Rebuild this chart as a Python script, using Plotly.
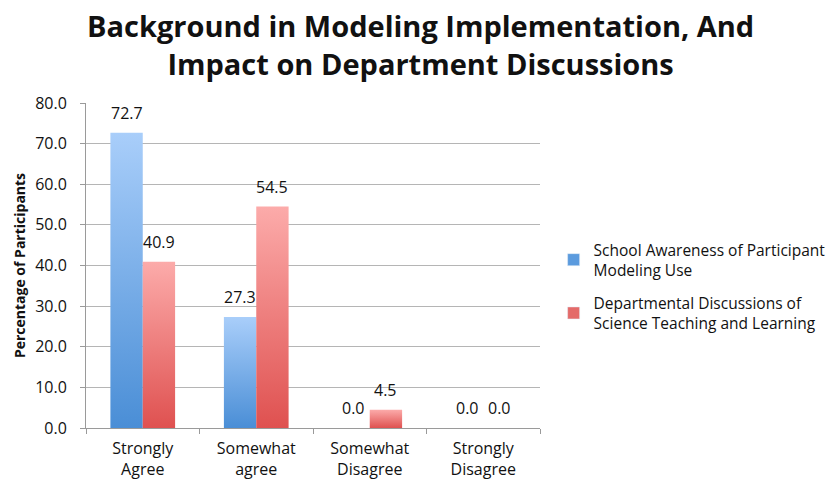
import plotly.graph_objects as go

categories = ["Strongly<br>Agree", "Somewhat<br>agree", "Somewhat<br>Disagree", "Strongly<br>Disagree"]
school_awareness = [72.7, 27.3, 0.0, 0.0]
dept_discussions = [40.9, 54.5, 4.5, 0.0]
series_names = [
    "School Awareness of Participant<br>Modeling Use",
    "Departmental Discussions of<br>Science Teaching and Learning",
]
y_ticks = [0, 10, 20, 30, 40, 50, 60, 70, 80]

series = [
    (school_awareness, series_names[0], "#4A8ED6", "#A9CEFA", "#5B9BDE", -1),
    (dept_discussions, series_names[1], "#DF5150", "#FCABAA", "#E46A69", 1),
]
bar_w = 0.285
FONT = "Open Sans"
TXT = "#111111"
AX = "#9A9A9A"

# plot-area geometry in pixels (used to place the title in paper units)
W, H = 840, 479
ML, MR, MT, MB = 86, 300, 103, 51
plot_w = W - ML - MR
plot_h = H - MT - MB

fig = go.Figure()
for values, name, dark, light, swatch, side in series:
    # legend entry with a plain square swatch
    fig.add_trace(go.Bar(x=[0], y=[0], name=name, marker_color=swatch,
                         legendgroup=name, hoverinfo="skip", width=0.001))
    for i, v in enumerate(values):
        x0 = i if side > 0 else i - bar_w
        x1 = i + bar_w if side > 0 else i
        if v > 0:
            fig.add_trace(go.Scatter(
                x=[x0, x0, x1, x1, x0], y=[0, v, v, 0, 0],
                mode="lines", fill="toself", line=dict(width=0),
                fillcolor=dark,
                fillgradient=dict(type="vertical", start=0, stop=v,
                                  colorscale=[[0, dark], [1, light]]),
                legendgroup=name, showlegend=False, hoverinfo="skip",
            ))
        # value label above the bar
        fig.add_annotation(
            x=i + side * bar_w / 2, y=v, text=f"{v:.1f}",
            showarrow=False, yanchor="bottom", yshift=7,
            font=dict(family=FONT, size=16, color=TXT),
        )

fig.add_annotation(
    xref="paper", yref="paper",
    x=(420 - ML) / plot_w, y=(plot_h + MT - 4) / plot_h,
    xanchor="center", yanchor="top", showarrow=False,
    text="<b>Background in Modeling Implementation, And<br>Impact on Department Discussions</b>",
    font=dict(family=FONT, size=29, color=TXT),
)

fig.update_layout(
    width=W, height=H,
    margin=dict(l=ML, r=MR, t=MT, b=MB, autoexpand=False),
    paper_bgcolor="white", plot_bgcolor="white",
    barmode="overlay",
    xaxis=dict(
        range=[-0.5, 3.5], tickvals=[-0.5, 0.5, 1.5, 2.5, 3.5],
        showticklabels=False, ticks="outside", ticklen=5,
        tickcolor=AX, showline=True, linecolor=AX,
        showgrid=False, zeroline=False, automargin=False,
    ),
    xaxis2=dict(
        overlaying="x", anchor="y", side="bottom", matches="x",
        tickvals=[0, 1, 2, 3], ticktext=categories, ticks="",
        ticklabelstandoff=9, automargin=False,
        showgrid=False, zeroline=False, showline=False,
        tickfont=dict(family=FONT, size=16, color=TXT),
    ),
    yaxis=dict(
        range=[0, 80], tickvals=y_ticks, tickformat=".1f",
        ticks="outside", ticklen=5, tickcolor=AX,
        ticklabelstandoff=10, automargin=False,
        showline=True, linecolor=AX,
        showgrid=True, gridcolor="#B5B5B5", gridwidth=1, zeroline=False,
        tickfont=dict(family=FONT, size=16, color=TXT),
        title=dict(text="<b>Percentage of Participants</b>", standoff=6,
                   font=dict(family=FONT, size=14, color=TXT)),
    ),
    legend=dict(
        x=1.03, y=0.6, xanchor="left", yanchor="top",
        font=dict(family=FONT, size=15.5, color=TXT),
        tracegroupgap=10, itemwidth=30, bgcolor="rgba(0,0,0,0)",
    ),
)
# invisible anchor trace so the labelled category axis is drawn
fig.add_trace(go.Scatter(x=[0], y=[0], xaxis="x2", mode="markers",
                         marker=dict(opacity=0), showlegend=False, hoverinfo="skip"))

fig.write_html("out.html")
